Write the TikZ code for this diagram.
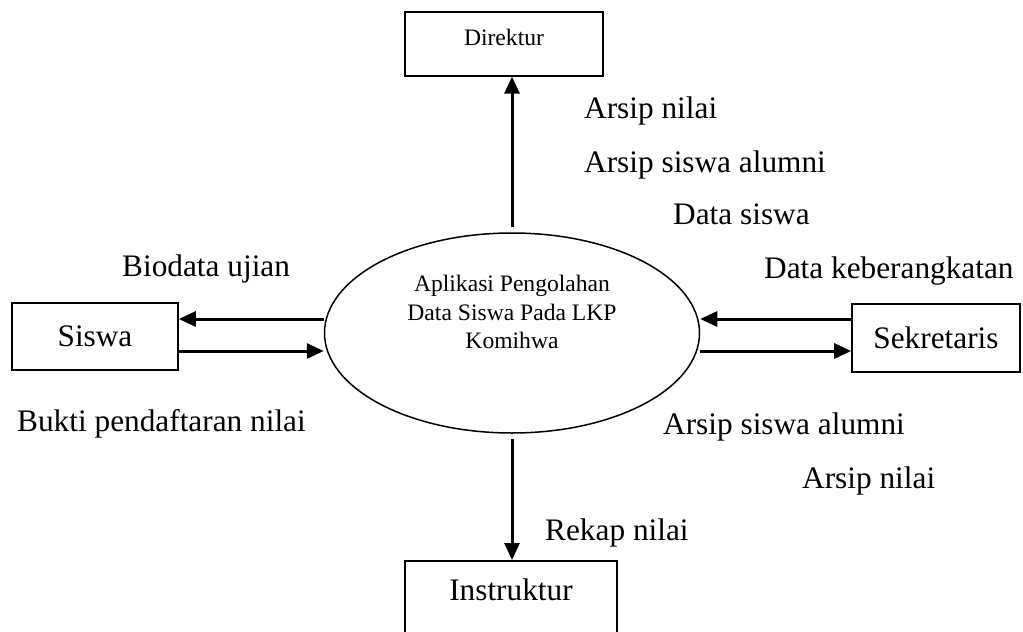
\documentclass[tikz,border=0pt]{standalone}
\usepackage{fontspec}
\setmainfont{Liberation Serif}
\usetikzlibrary{shapes.geometric, arrows.meta}

\begin{document}
\begin{tikzpicture}[x=1pt, y=-1pt]

\tikzset{entity/.style={shape=rectangle, draw=black, line width=1.6, font=\fontsize{31.3}{37}\selectfont, inner sep=0}}
\tikzset{smallentity/.style={entity, font=\fontsize{23.6}{28.3}\selectfont}}
\tikzset{proc/.style={shape=ellipse, draw=black, line width=1.5, minimum width=375, minimum height=200, inner sep=0}}
\tikzset{flowlabel/.style={font=\fontsize{31.3}{37}\selectfont, anchor=base west, inner sep=0}}
\tikzset{flow/.style={line width=3, -{Triangle[length=17pt, width=15pt]}}}

\useasboundingbox (0,0) rectangle (1023,632);
\clip (0,0) rectangle (1023,632);

\node[proc] (app) at (512,333) {};
\node[font=\fontsize{23.6}{28.3}\selectfont, align=center] (apptext) at (512,312) {Aplikasi Pengolahan\\Data Siswa Pada LKP\\Komihwa};
\node[smallentity, anchor=north, minimum width=198, inner ysep=18, text height=16, text depth=12] (dir) at (504,11) {Direktur};
\node[entity, minimum width=166, minimum height=67] (siswa) at (95,336.5) {Siswa};
\node[entity, minimum width=168, minimum height=68] (sek) at (936,338) {Sekretaris};
\node[entity, anchor=north, minimum width=212, inner ysep=18, text height=21.4, text depth=40] (inst) at (511,560) {Instruktur};

\draw[flow, shorten <=5] (app.north) -- (app.north |- dir.south);
\draw[flow, shorten <=5] (app.south) -- (app.south |- inst.north);
\draw[flow] ([yshift=14]app.west) -- ([yshift=14]app.west -| siswa.east);
\draw[flow] ([yshift=-18]app.west -| siswa.east) -- ([yshift=-18]app.west);
\draw[flow] ([yshift=14]app.east -| sek.west) -- ([yshift=14]app.east);
\draw[flow] ([yshift=-18]app.east) -- ([yshift=-18]app.east -| sek.west);

\node[flowlabel] (l1) at (584,118) {Arsip nilai};
\node[flowlabel] (l2) at (584,172) {Arsip siswa alumni};
\node[flowlabel] (l3) at (673,224) {Data siswa};
\node[flowlabel] (l4) at (122,276) {Biodata ujian};
\node[flowlabel] (l5) at (764,278) {Data keberangkatan};
\node[flowlabel] (l6) at (17,431) {Bukti pendaftaran nilai};
\node[flowlabel] (l7) at (663,434) {Arsip siswa alumni};
\node[flowlabel] (l8) at (802,488) {Arsip nilai};
\node[flowlabel] (l9) at (545,540) {Rekap nilai};

\end{tikzpicture}
\end{document}
